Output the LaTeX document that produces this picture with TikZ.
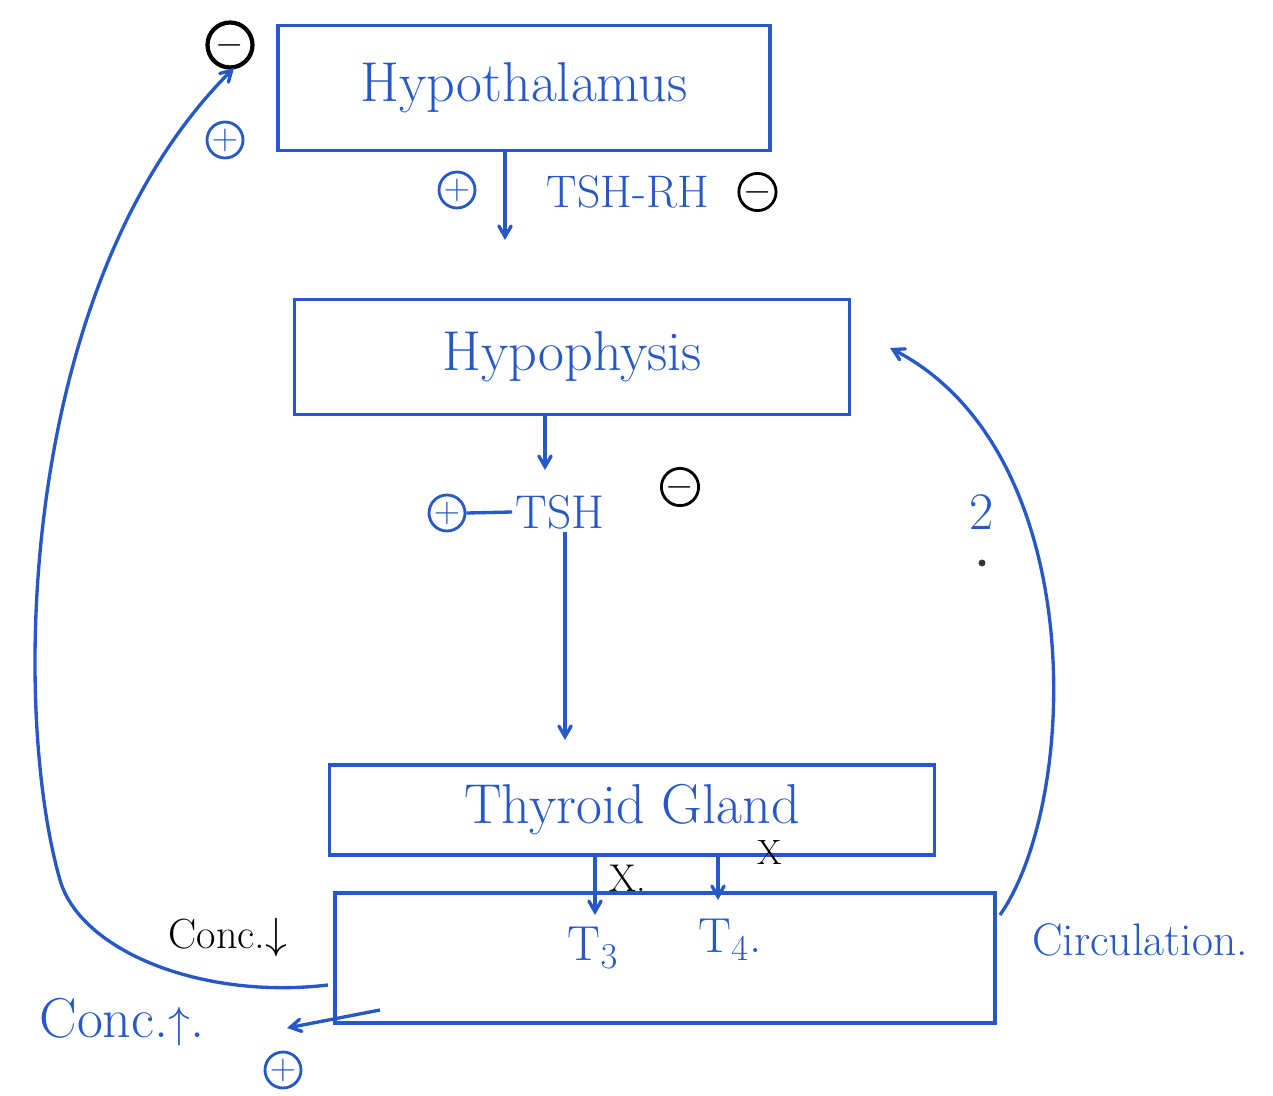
\documentclass[tikz,border=0pt]{standalone}
\usepackage{amsmath}
\usepackage{amssymb}
\usepackage{tikz}
\usetikzlibrary{positioning}
\usetikzlibrary{arrows}
\usetikzlibrary{calc}

\definecolor{ink}{RGB}{38,88,200}

\begin{document}
\begin{tikzpicture}[
            x = 0.02cm, y = -0.02cm, % pixel grid
            > = angle 60, % open arrow head like the pen strokes
            line width = 1.9pt,
            node distance = 0.2cm
        ]

        \tikzstyle{organ}=[
            draw = ink,
            line width = 1.9pt,
            text = ink,
            font = \fontsize{32}{38}\selectfont
        ]
        \tikzstyle{plus}=[
            draw = ink,
            circle,
            text = ink,
            line width = 1.6pt,
            inner sep = 0pt,
            minimum size = 0.72cm,
            font = \fontsize{20}{20}\selectfont
        ]
        \tikzstyle{minus}=[
            plus,
            draw = black,
            text = black
        ]
        \tikzstyle{hand}=[
            text = ink,
            inner sep = 1pt,
            font = \fontsize{24}{28}\selectfont
        ]

        \useasboundingbox (0,0) rectangle (1273,1095);

        % the four boxes
        \node[organ, minimum width=9.84cm, minimum height=2.5cm] (hyp) at (524,88) {Hypothalamus};
        \node[organ, minimum width=11.1cm, minimum height=2.3cm] (hypo) at (572,357) {Hypophysis};
        \node[organ, minimum width=12.1cm, minimum height=1.8cm] (thy) at (632,810) {Thyroid Gland};
        \node[organ, minimum width=13.2cm, minimum height=2.6cm] (circ) at (665,958) {};

        % signs at the hypothalamus
        \node[minus, minimum size=0.9cm, line width=2.4pt] (m1) at (230,45) {$-$};
        \node[plus] (p1) at (225,140) {$+$};

        % TSH-RH
        \node[plus] (p2) at (457,190) {$+$};
        \node[hand, font=\fontsize{26}{30}\selectfont] (trh) at (628,192) {TSH-RH};
        \node[minus, minimum size=0.66cm] (m2) [right=0.5cm of trh] {$-$};
        \coordinate (trhtip) at (505,240);
        \draw[->, ink] (hyp.south -| trhtip) -- (trhtip);

        % TSH
        \coordinate (tshtip) at (545,470);
        \draw[->, ink] (hypo.south -| tshtip) -- (tshtip);
        \node[hand, font=\fontsize{27}{30}\selectfont] (tsh) at (560,512) {TSH};
        \node[plus] (p3) at (447,513) {$+$};
        \draw[ink] (p3.east) -- (tsh.west);
        \node[minus, minimum size=0.62cm] (m3) at (680,487) {$-$};
        \coordinate (thytip) at (565,740);
        \draw[->, ink] (tsh.south -| thytip) -- (thytip);

        % hormones in the circulation
        \node[hand, font=\fontsize{28}{32}\selectfont] (t3) at (593,948) {T$_3$};
        \node[hand, font=\fontsize{28}{32}\selectfont] (t4) at (730,940) {T$_4$.};
        \coordinate (t3tip) at (595,915);
        \coordinate (t4tip) at (718,900);
        \draw[->, ink] (thy.south -| t3tip) -- (t3tip);
        \draw[->, ink] (thy.south -| t4tip) -- (t4tip);
        \node[font=\fontsize{22}{24}\selectfont] (x3) at (628,878) {X.};
        \node[font=\fontsize{20}{22}\selectfont] (x4) at (770,852) {X};
        \node[hand, font=\fontsize{26}{30}\selectfont] (circlabel) at (1140,940) {Circulation.};

        % feedback loops
        \node[font=\fontsize{24}{28}\selectfont] (cdown) at (228,938) {Conc.$\downarrow$};
        \coordinate (loopstart) at (328,985);
        \coordinate (hypin) at (234,68);
        \draw[->, ink] (loopstart) .. controls (200,1000) and (80,950) .. (60,880)
            .. controls (10,705) and (20,280) .. (hypin);

        \coordinate (circout) at (1000,915);
        \coordinate (hypoin) at (890,348);
        \draw[->, ink] (circout) .. controls (1080,800) and (1090,450) .. (hypoin);
        \node[hand, font=\fontsize{30}{34}\selectfont] (two) at (982,512) {2};
        \node[circle, fill=black!80, inner sep=1.4pt] (twodot) [below=0.5cm of two] {};

        \node[hand, font=\fontsize{32}{36}\selectfont] (cup) at (122,1022) {Conc.$\uparrow$.};
        \coordinate (circleft) at (380,1010);
        \coordinate (upin) at (287,1028);
        \draw[->, ink] (circleft) -- (upin);
        \node[plus] (p4) at (283,1070) {$+$};

\end{tikzpicture}
\end{document}
